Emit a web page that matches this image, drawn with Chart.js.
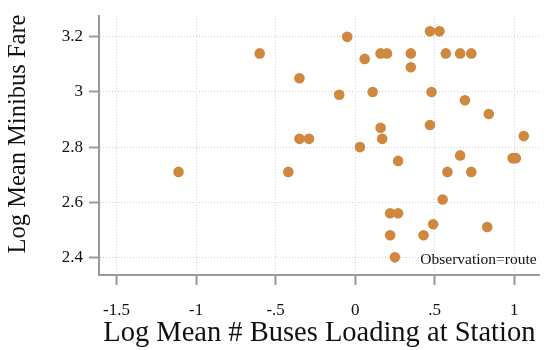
<!DOCTYPE html>
<html>
<head>
<meta charset="utf-8">
<script src="https://cdn.jsdelivr.net/npm/chart.js@4"></script>
<style>
  body { margin: 0; background: #fff; }
  canvas { display: block; }
</style>
</head>
<body>
<canvas id="myChart" width="545" height="350"></canvas>
<script>
// log mean # buses loading at station (x) vs log mean minibus fare (y), one point per route
const busesLoading = [
  -1.11, -0.60, -0.05, -0.35, 0.06, 0.16, 0.20, 0.35, 0.35, 0.47, 0.53, 0.57, 0.66, 0.73,
  -0.10, 0.11, 0.48, 0.69, 0.84, 0.16, 0.17, -0.35, -0.29, 0.47, 1.06, 0.03, 0.66, 0.99,
  1.01, 0.27, -0.42, 0.58, 0.73, 0.55, 0.22, 0.27, 0.49, 0.83, 0.22, 0.43, 0.25
];
const minibusFare = [
  2.71, 3.14, 3.20, 3.05, 3.12, 3.14, 3.14, 3.14, 3.09, 3.22, 3.22, 3.14, 3.14, 3.14,
  2.99, 3.00, 3.00, 2.97, 2.92, 2.87, 2.83, 2.83, 2.83, 2.88, 2.84, 2.80, 2.77, 2.76,
  2.76, 2.75, 2.71, 2.71, 2.71, 2.61, 2.56, 2.56, 2.52, 2.51, 2.48, 2.48, 2.40
];
const xTicks = [-1.5, -1, -0.5, 0, 0.5, 1];
const xTickLabels = ["-1.5", "-1", "-.5", "0", ".5", "1"];
const yTicks = [2.4, 2.6, 2.8, 3.0, 3.2];
const yTickLabels = ["2.4", "2.6", "2.8", "3", "3.2"];

const puntos = busesLoading.map((x, i) => ({ x: x, y: minibusFare[i] }));

const serif = "'Liberation Serif', 'DejaVu Serif', serif";
const gris = "#9a9a9a";
const rejilla = "#d0d0d0";

// titulo del eje y y texto "Observation=route"
const textosPlugin = {
  id: "textos",
  afterDraw(chart) {
    const { ctx, chartArea } = chart;
    ctx.save();
    ctx.font = "15.5px " + serif;
    ctx.fillStyle = "#111";
    ctx.textAlign = "right";
    ctx.textBaseline = "middle";
    ctx.fillText("Observation=route", chartArea.right - 3, chartArea.bottom - 15);

    ctx.translate(19, 134);
    ctx.rotate(-Math.PI / 2);
    ctx.font = "24.5px " + serif;
    ctx.textAlign = "center";
    ctx.fillText("Log Mean Minibus Fare", 0, 0);
    ctx.restore();
  },
};

const ctx = document.getElementById("myChart").getContext("2d");
const miGrafico = new Chart(ctx, {
  type: "scatter",
  data: {
    datasets: [
      {
        label: "Observation=route",
        data: puntos,
        backgroundColor: "#d0883f",
        borderWidth: 0,
        pointRadius: 5.3,
        pointHoverRadius: 5.3,
      },
    ],
  },
  options: {
    responsive: false,
    animation: false,
    layout: { padding: { top: 12, right: 5, left: 0, bottom: 0 } },
    plugins: {
      legend: { display: false },
      tooltip: { enabled: false },
    },
    scales: {
      x: {
        type: "linear",
        min: -1.61,
        max: 1.16,
        afterBuildTicks: (scale) => {
          scale.ticks = xTicks.map((v) => ({ value: v }));
        },
        afterFit: (scale) => {
          scale.height = 75;
        },
        ticks: {
          color: "#111",
          font: { family: serif, size: 17 },
          padding: 15,
          maxRotation: 0,
          callback: (v) => xTickLabels[xTicks.indexOf(v)],
        },
        grid: {
          color: rejilla,
          tickBorderDash: [],
          tickColor: gris,
          tickWidth: 2,
          tickLength: 10,
        },
        border: { color: gris, width: 2, dash: [1, 2] },
        title: {
          display: true,
          text: "Log Mean # Buses Loading at Station",
          color: "#111",
          font: { family: serif, size: 28.5 },
          padding: { top: 0, bottom: -1 },
        },
      },
      y: {
        type: "linear",
        min: 2.336,
        max: 3.275,
        afterBuildTicks: (scale) => {
          scale.ticks = yTicks.map((v) => ({ value: v }));
        },
        afterFit: (scale) => {
          scale.width = 99;
        },
        ticks: {
          color: "#111",
          font: { family: serif, size: 17 },
          padding: 6,
          callback: (v) => yTickLabels[yTicks.indexOf(v)],
        },
        grid: {
          color: rejilla,
          tickBorderDash: [],
          tickColor: gris,
          tickWidth: 2,
          tickLength: 10,
        },
        border: { color: gris, width: 2, dash: [1, 2] },
      },
    },
  },
  plugins: [textosPlugin],
});
</script>
</body>
</html>
